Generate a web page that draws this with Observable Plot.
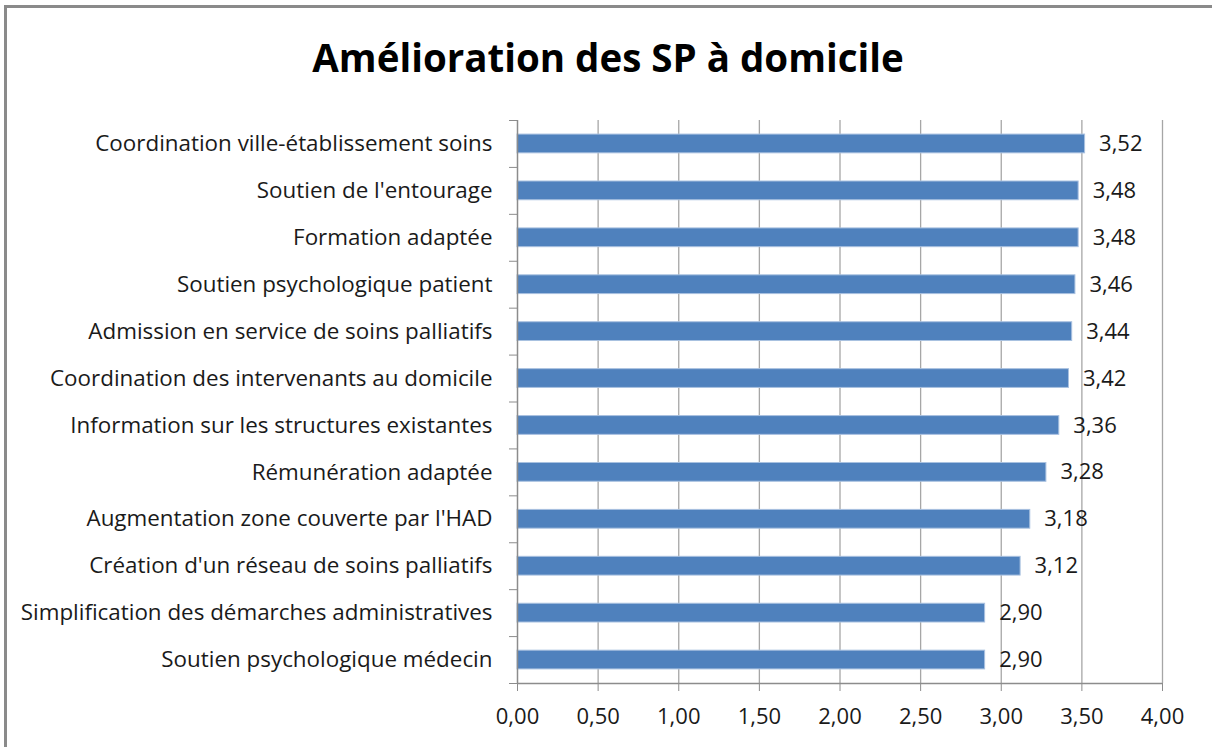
<!DOCTYPE html>
<html>
<head>
<meta charset="utf-8">
<script src="https://cdn.jsdelivr.net/npm/d3@7"></script>
<script src="https://cdn.jsdelivr.net/npm/@observablehq/plot@0.6"></script>
<style>
  html, body { margin: 0; padding: 0; background: #fff; width: 1212px; height: 747px; overflow: hidden; }
  #frame { position: absolute; left: 4px; top: 5px; width: 1400px; height: 900px; border-top: 3px solid #8a8a8a; border-left: 3px solid #8a8a8a; }
  #title { position: absolute; left: 0; width: 1216px; top: 31px; text-align: center; font-family: "Open Sans", sans-serif; font-weight: bold; font-size: 38.5px; color: #000; }
  #chart { position: absolute; left: 0; top: 100px; }
</style>
</head>
<body>
<div id="frame"></div>
<div id="title">Amélioration des SP à domicile</div>
<div id="chart"></div>
<script>
const categories = [
  "Coordination ville-établissement soins",
  "Soutien de l'entourage",
  "Formation adaptée",
  "Soutien psychologique patient",
  "Admission en service de soins palliatifs",
  "Coordination des intervenants au domicile",
  "Information sur les structures existantes",
  "Rémunération adaptée",
  "Augmentation zone couverte par l'HAD",
  "Création d'un réseau de soins palliatifs",
  "Simplification des démarches administratives",
  "Soutien psychologique médecin"
];
const values = [3.52, 3.48, 3.48, 3.46, 3.44, 3.42, 3.36, 3.28, 3.18, 3.12, 2.90, 2.90];
const xTicks = [0, 0.5, 1, 1.5, 2, 2.5, 3, 3.5, 4];

const data = categories.map((c, i) => ({category: c, value: values[i], idx: i}));
const fmt = v => v.toFixed(2).replace(".", ",");
const n = categories.length;
const boundaries = d3.range(n + 1);
const centers = d3.range(n).map(i => i + 0.5);

const chart = Plot.plot({
  width: 1212,
  height: 647,
  marginLeft: 517,
  marginRight: 50,
  marginTop: 20,
  marginBottom: 64,
  style: {fontFamily: "'Open Sans', sans-serif", fontSize: "22px", color: "#1a1a1a", background: "transparent"},
  x: {domain: [0, 4], range: [517, 1162]},
  y: {domain: [0, n], range: [20, 583]},
  marks: [
    Plot.ruleX(xTicks.slice(1), {stroke: "#a6a6a6", strokeWidth: 1.3, strokeOpacity: 1}),
    Plot.rectX(data, {x1: 0, x2: "value", y1: d => d.idx + 0.3, y2: d => d.idx + 0.7, fill: "#4f81bd", stroke: "#a9c1e0", strokeWidth: 1}),
    Plot.text(data, {x: "value", y: d => d.idx + 0.5, text: d => fmt(d.value), dx: 14, textAnchor: "start", fontSize: 22, fill: "#1a1a1a"}),
    Plot.ruleY([n], {stroke: "#8c8c8c", strokeWidth: 1.5}),
    Plot.ruleX([0], {stroke: "#8c8c8c", strokeWidth: 1.5}),
    Plot.axisX({ticks: xTicks, tickFormat: fmt, tickSize: 8, tickPadding: 17, stroke: "#8c8c8c", fontSize: 22, label: null}),
    Plot.axisY({ticks: boundaries, tickFormat: () => "", tickSize: 8, stroke: "#8c8c8c", anchor: "left", label: null}),
    Plot.axisY({ticks: centers, tickFormat: v => categories[Math.round(v - 0.5)], tickSize: 0, tickPadding: 25, anchor: "left", fontSize: 22.4, label: null})
  ]
});
document.getElementById("chart").appendChild(chart);
</script>
</body>
</html>
